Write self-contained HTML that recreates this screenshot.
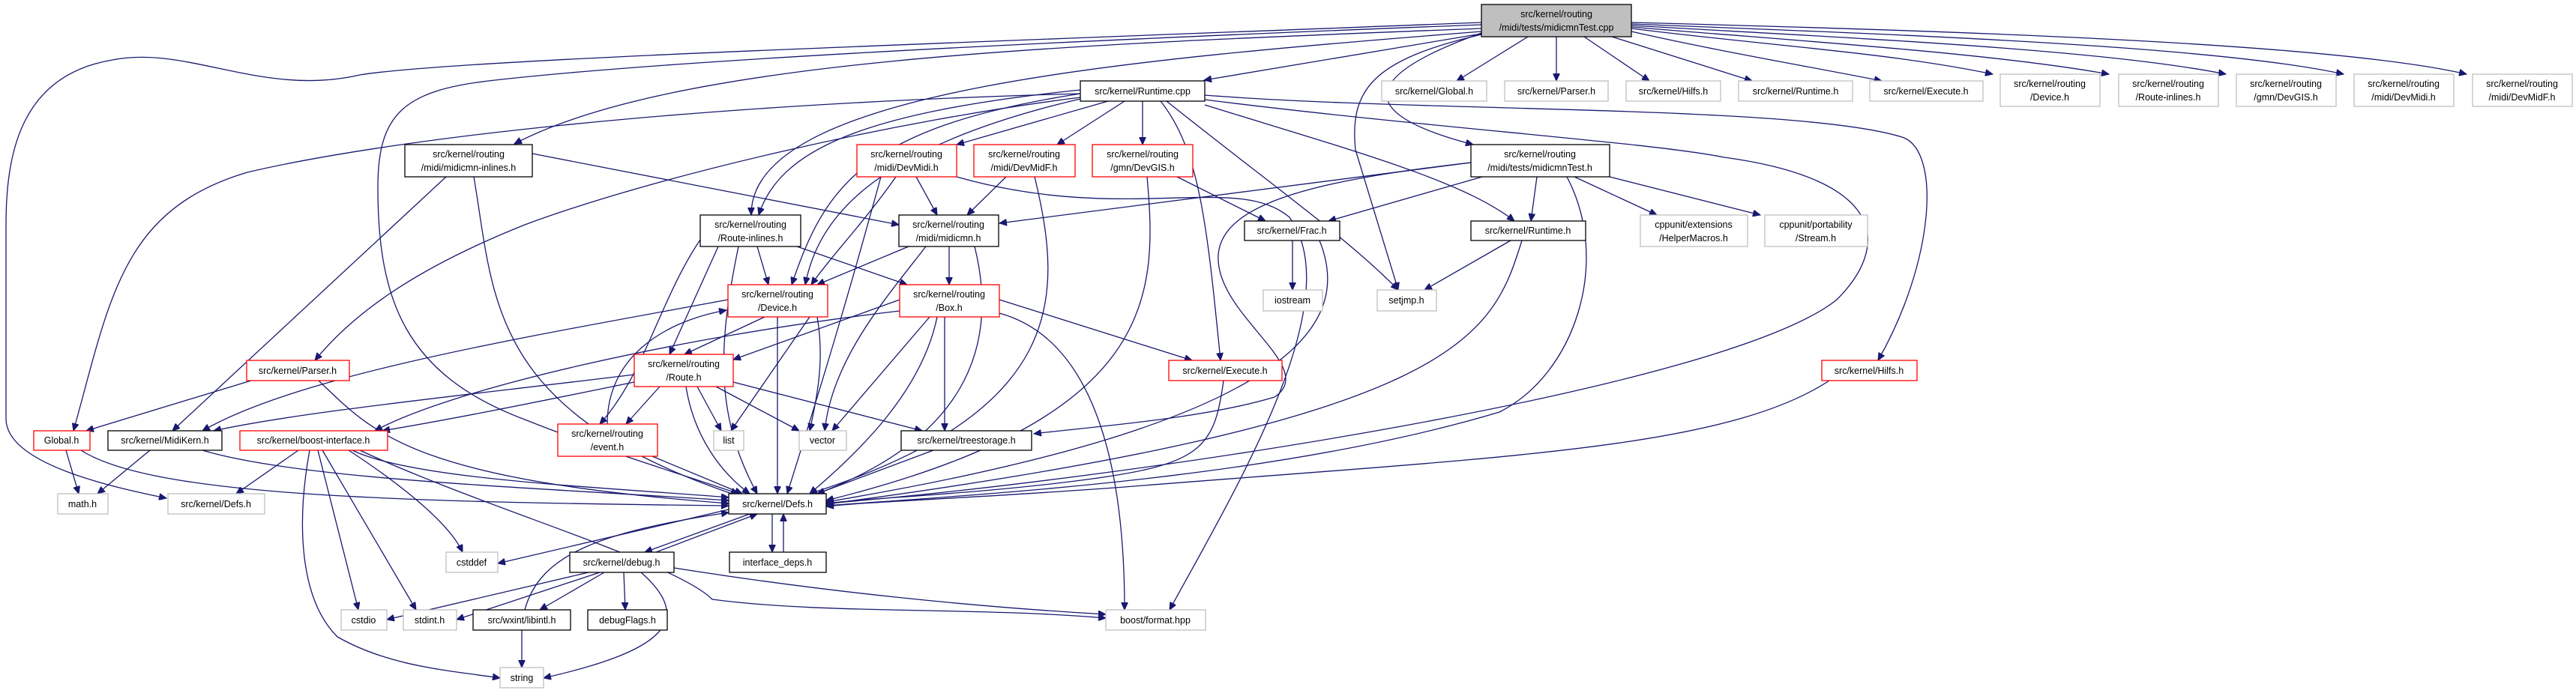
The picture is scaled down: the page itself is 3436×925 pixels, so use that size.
<!DOCTYPE html>
<html><head><meta charset="utf-8"><style>
html,body{margin:0;padding:0;background:#fff}
svg{display:block}
text{font-family:"Liberation Sans",sans-serif;font-size:12.5px;fill:#000;text-anchor:middle}
.e{fill:none;stroke:#191970;stroke-width:1.3}
.bk{fill:#fff;stroke:#000;stroke-width:1.3}
.rd{fill:#fff;stroke:#ff0000;stroke-width:1.3}
.gr{fill:#fff;stroke:#bfbfbf;stroke-width:1.3}
.rt{fill:#bfbfbf;stroke:#000;stroke-width:1.3}
</style></head><body>
<svg width="3436" height="925" viewBox="0 0 3436 925" xmlns="http://www.w3.org/2000/svg">
<defs><marker id="a" markerUnits="userSpaceOnUse" markerWidth="11" markerHeight="9" refX="10" refY="4.5" orient="auto"><path d="M0,0 L10,4.5 L0,9 z" fill="#191970" stroke="#191970"/></marker></defs>
<g marker-end="url(#a)">
<path class="e" d="M1976,45 L1606,107"/>
<path class="e" d="M2038,49 L1943,108"/>
<path class="e" d="M2076,49 L2076,108"/>
<path class="e" d="M2113,49 L2200,108"/>
<path class="e" d="M2150,49 L2337,108"/>
<path class="e" d="M2176,42 C2300,70 2420,90 2510,108"/>
<path class="e" d="M2176,38 C2350,60 2520,70 2658,99"/>
<path class="e" d="M2176,36 C2400,55 2650,70 2813,99"/>
<path class="e" d="M2176,34 C2450,50 2800,65 2969,99"/>
<path class="e" d="M2176,32 C2500,45 2950,60 3126,99"/>
<path class="e" d="M2176,30 C2550,40 3100,55 3290,99"/>
<path class="e" d="M1976,44 C1820,100 1800,150 1965,193"/>
<path class="e" d="M1976,46 C1830,80 1800,120 1808,200 L1865,387"/>
<path class="e" d="M1976,38 C1400,60 900,80 686,192"/>
<path class="e" d="M1976,42 C1500,80 1000,120 1002,287"/>
<path class="e" d="M1976,30 C1200,60 600,80 480,100 C350,130 250,60 150,80 C30,100 8,200 8,300 L8,560 C10,620 150,650 222,665"/>
<path class="e" d="M1976,33 C1400,55 900,80 660,107 C540,120 504,150 504,250 C504,400 540,500 700,560 C800,600 900,630 985,659"/>
<path class="e" d="M1478,135 L1276,193"/>
<path class="e" d="M1500,135 L1410,193"/>
<path class="e" d="M1524,135 L1524,193"/>
<path class="e" d="M1548,135 C1600,200 1610,300 1628,481"/>
<path class="e" d="M1556,135 C1700,250 1800,320 1865,387"/>
<path class="e" d="M1607,140 C1800,200 1950,240 2020,295"/>
<path class="e" d="M1607,127 C1900,150 2400,140 2537,183 C2590,200 2580,350 2505,481"/>
<path class="e" d="M1607,133 C1900,170 2200,190 2300,210 C2520,240 2520,330 2450,400 C2300,520 1500,640 1102,672"/>
<path class="e" d="M1441,130 C1200,160 880,233 700,300 C550,360 470,420 420,481"/>
<path class="e" d="M1441,125 C900,140 513,187 330,230 C161,280 147,400 98,575"/>
<path class="e" d="M1441,120 C1150,150 1040,200 1012,287"/>
<path class="e" d="M1441,125 C1150,170 1100,250 1056,380"/>
<path class="e" d="M1441,132 C1150,200 1090,300 1074,380"/>
<path class="e" d="M710,205 L1199,300"/>
<path class="e" d="M595,236 L230,575"/>
<path class="e" d="M632,236 C660,400 650,550 985,662"/>
<path class="e" d="M1222,236 L1250,287"/>
<path class="e" d="M1195,236 C1150,300 1110,340 1082,380"/>
<path class="e" d="M1175,236 C1130,400 1100,500 1050,659"/>
<path class="e" d="M1276,236 C1500,300 1650,230 1720,290 C1800,400 1650,650 1560,814"/>
<path class="e" d="M1342,236 L1290,287"/>
<path class="e" d="M1380,236 C1420,400 1420,550 1080,659"/>
<path class="e" d="M1570,236 L1688,295"/>
<path class="e" d="M1530,236 C1545,400 1540,560 1102,668"/>
<path class="e" d="M1962,217 L1333,298"/>
<path class="e" d="M1977,236 L1772,295"/>
<path class="e" d="M2050,236 L2042,295"/>
<path class="e" d="M2100,236 L2210,287"/>
<path class="e" d="M2147,236 L2348,287"/>
<path class="e" d="M2090,236 C2150,350 2100,500 2000,550 C1700,640 1300,660 1102,675"/>
<path class="e" d="M1962,217 C1760,240 1630,270 1625,340 C1620,420 1760,490 1700,530 C1600,560 1450,570 1379,579"/>
<path class="e" d="M1010,329 L1025,380"/>
<path class="e" d="M1063,329 L1210,380"/>
<path class="e" d="M958,329 L893,473"/>
<path class="e" d="M934,320 C880,400 860,500 800,566"/>
<path class="e" d="M985,329 C960,450 950,550 1010,659"/>
<path class="e" d="M1212,329 L1090,380"/>
<path class="e" d="M1266,329 L1266,380"/>
<path class="e" d="M1300,329 C1330,450 1300,580 1090,659"/>
<path class="e" d="M1235,329 C1180,400 1110,480 1100,575"/>
<path class="e" d="M1724,321 L1724,387"/>
<path class="e" d="M1760,321 C1800,420 1760,560 1102,670"/>
<path class="e" d="M2015,321 L1900,387"/>
<path class="e" d="M2030,321 C1990,450 1950,560 1102,673"/>
<path class="e" d="M1020,423 L913,473"/>
<path class="e" d="M1080,423 L975,575"/>
<path class="e" d="M1090,423 C1100,480 1090,530 1080,575"/>
<path class="e" d="M1037,423 L1037,659"/>
<path class="e" d="M971,400 C700,450 400,500 270,575"/>
<path class="e" d="M810,566 C810,480 880,430 969,414"/>
<path class="e" d="M1200,400 L978,480"/>
<path class="e" d="M1333,400 L1590,481"/>
<path class="e" d="M1260,423 L1260,575"/>
<path class="e" d="M1240,423 L1110,575"/>
<path class="e" d="M1250,423 C1230,520 1150,600 1080,659"/>
<path class="e" d="M1333,418 C1450,450 1500,600 1500,814"/>
<path class="e" d="M1200,415 C900,450 600,520 500,575"/>
<path class="e" d="M880,516 L835,566"/>
<path class="e" d="M930,516 L962,575"/>
<path class="e" d="M955,516 L1066,575"/>
<path class="e" d="M978,510 L1230,575"/>
<path class="e" d="M915,516 C925,580 960,630 1000,659"/>
<path class="e" d="M846,500 C600,530 400,550 285,575"/>
<path class="e" d="M846,510 C700,540 600,560 510,575"/>
<path class="e" d="M335,508 L115,575"/>
<path class="e" d="M425,508 C500,580 550,640 972,672"/>
<path class="e" d="M88,601 L105,659"/>
<path class="e" d="M108,601 C200,660 500,670 972,675"/>
<path class="e" d="M200,601 L130,659"/>
<path class="e" d="M270,601 C400,640 700,650 972,668"/>
<path class="e" d="M398,601 L315,659"/>
<path class="e" d="M470,601 C550,640 800,650 972,664"/>
<path class="e" d="M465,601 C540,650 600,700 617,737"/>
<path class="e" d="M424,601 L478,814"/>
<path class="e" d="M430,601 L555,814"/>
<path class="e" d="M413,601 C395,700 400,800 450,850 C520,890 600,895 667,905"/>
<path class="e" d="M480,601 C650,680 900,750 950,800 C1100,820 1300,810 1475,825"/>
<path class="e" d="M870,609 L990,659"/>
<path class="e" d="M1245,601 L1090,659"/>
<path class="e" d="M1632,508 C1620,600 1600,620 1450,640 C1300,660 1150,665 1102,672"/>
<path class="e" d="M2440,508 C2300,600 2000,610 1500,650 C1300,665 1150,670 1102,676"/>
<path class="e" d="M1000,686 L860,737"/>
<path class="e" d="M875,737 L1010,686"/>
<path class="e" d="M1030,686 L1030,737"/>
<path class="e" d="M1045,737 L1045,686"/>
<path class="e" d="M972,680 L664,752"/>
<path class="e" d="M785,764 L516,827"/>
<path class="e" d="M800,764 L609,827"/>
<path class="e" d="M806,764 L720,814"/>
<path class="e" d="M832,764 L834,814"/>
<path class="e" d="M855,764 C930,830 880,870 725,905"/>
<path class="e" d="M899,758 C1100,790 1300,810 1475,820"/>
<path class="e" d="M696,841 L696,891"/>
<path class="e" d="M700,814 C720,740 800,710 972,684"/>
</g>
<rect class="rt" x="1976" y="6" width="200" height="43"/><text x="2076" y="23">src/kernel/routing</text><text x="2076" y="41">/midi/tests/midicmnTest.cpp</text>
<rect class="bk" x="1441" y="108" width="166" height="27"/><text x="1524" y="126">src/kernel/Runtime.cpp</text>
<rect class="gr" x="1843" y="108" width="140" height="27"/><text x="1913" y="126">src/kernel/Global.h</text>
<rect class="gr" x="2007" y="108" width="138" height="27"/><text x="2076" y="126">src/kernel/Parser.h</text>
<rect class="gr" x="2169" y="108" width="126" height="27"/><text x="2232" y="126">src/kernel/Hilfs.h</text>
<rect class="gr" x="2319" y="108" width="152" height="27"/><text x="2395" y="126">src/kernel/Runtime.h</text>
<rect class="gr" x="2494" y="108" width="151" height="27"/><text x="2569" y="126">src/kernel/Execute.h</text>
<rect class="gr" x="2668" y="99" width="133" height="43"/><text x="2734" y="116">src/kernel/routing</text><text x="2734" y="134">/Device.h</text>
<rect class="gr" x="2826" y="99" width="133" height="43"/><text x="2892" y="116">src/kernel/routing</text><text x="2892" y="134">/Route-inlines.h</text>
<rect class="gr" x="2983" y="99" width="133" height="43"/><text x="3049" y="116">src/kernel/routing</text><text x="3049" y="134">/gmn/DevGIS.h</text>
<rect class="gr" x="3140" y="99" width="133" height="43"/><text x="3206" y="116">src/kernel/routing</text><text x="3206" y="134">/midi/DevMidi.h</text>
<rect class="gr" x="3298" y="99" width="133" height="43"/><text x="3364" y="116">src/kernel/routing</text><text x="3364" y="134">/midi/DevMidF.h</text>
<rect class="bk" x="540" y="193" width="170" height="43"/><text x="625" y="210">src/kernel/routing</text><text x="625" y="228">/midi/midicmn-inlines.h</text>
<rect class="rd" x="1143" y="193" width="133" height="43"/><text x="1209" y="210">src/kernel/routing</text><text x="1209" y="228">/midi/DevMidi.h</text>
<rect class="rd" x="1299" y="193" width="135" height="43"/><text x="1366" y="210">src/kernel/routing</text><text x="1366" y="228">/midi/DevMidF.h</text>
<rect class="rd" x="1457" y="193" width="134" height="43"/><text x="1524" y="210">src/kernel/routing</text><text x="1524" y="228">/gmn/DevGIS.h</text>
<rect class="bk" x="1962" y="193" width="185" height="43"/><text x="2054" y="210">src/kernel/routing</text><text x="2054" y="228">/midi/tests/midicmnTest.h</text>
<rect class="bk" x="934" y="287" width="134" height="42"/><text x="1001" y="304">src/kernel/routing</text><text x="1001" y="322">/Route-inlines.h</text>
<rect class="bk" x="1199" y="287" width="133" height="42"/><text x="1265" y="304">src/kernel/routing</text><text x="1265" y="322">/midi/midicmn.h</text>
<rect class="bk" x="1660" y="295" width="127" height="26"/><text x="1723" y="312">src/kernel/Frac.h</text>
<rect class="bk" x="1962" y="295" width="153" height="26"/><text x="2038" y="312">src/kernel/Runtime.h</text>
<rect class="gr" x="2188" y="287" width="143" height="42"/><text x="2259" y="304">cppunit/extensions</text><text x="2259" y="322">/HelperMacros.h</text>
<rect class="gr" x="2354" y="287" width="137" height="42"/><text x="2422" y="304">cppunit/portability</text><text x="2422" y="322">/Stream.h</text>
<rect class="rd" x="971" y="380" width="133" height="43"/><text x="1037" y="397">src/kernel/routing</text><text x="1037" y="415">/Device.h</text>
<rect class="rd" x="1200" y="380" width="133" height="43"/><text x="1266" y="397">src/kernel/routing</text><text x="1266" y="415">/Box.h</text>
<rect class="gr" x="1685" y="387" width="79" height="28"/><text x="1724" y="405">iostream</text>
<rect class="gr" x="1837" y="387" width="79" height="28"/><text x="1876" y="405">setjmp.h</text>
<rect class="rd" x="329" y="481" width="137" height="27"/><text x="397" y="499">src/kernel/Parser.h</text>
<rect class="rd" x="846" y="473" width="132" height="43"/><text x="912" y="490">src/kernel/routing</text><text x="912" y="508">/Route.h</text>
<rect class="rd" x="1559" y="481" width="151" height="27"/><text x="1634" y="499">src/kernel/Execute.h</text>
<rect class="rd" x="2430" y="481" width="127" height="27"/><text x="2493" y="499">src/kernel/Hilfs.h</text>
<rect class="rd" x="45" y="575" width="75" height="26"/><text x="82" y="592">Global.h</text>
<rect class="bk" x="144" y="575" width="152" height="26"/><text x="220" y="592">src/kernel/MidiKern.h</text>
<rect class="rd" x="320" y="575" width="197" height="26"/><text x="418" y="592">src/kernel/boost-interface.h</text>
<rect class="rd" x="744" y="566" width="133" height="43"/><text x="810" y="583">src/kernel/routing</text><text x="810" y="601">/event.h</text>
<rect class="gr" x="952" y="575" width="40" height="26"/><text x="972" y="592">list</text>
<rect class="gr" x="1066" y="575" width="63" height="26"/><text x="1097" y="592">vector</text>
<rect class="bk" x="1202" y="575" width="174" height="26"/><text x="1289" y="592">src/kernel/treestorage.h</text>
<rect class="gr" x="77" y="659" width="67" height="27"/><text x="110" y="677">math.h</text>
<rect class="gr" x="224" y="659" width="129" height="27"/><text x="288" y="677">src/kernel/Defs.h</text>
<rect class="bk" x="972" y="659" width="130" height="27"/><text x="1037" y="677">src/kernel/Defs.h</text>
<rect class="gr" x="595" y="737" width="69" height="27"/><text x="629" y="755">cstddef</text>
<rect class="bk" x="760" y="737" width="139" height="27"/><text x="829" y="755">src/kernel/debug.h</text>
<rect class="bk" x="973" y="737" width="129" height="27"/><text x="1037" y="755">interface_deps.h</text>
<rect class="gr" x="455" y="814" width="61" height="27"/><text x="485" y="832">cstdio</text>
<rect class="gr" x="538" y="814" width="71" height="27"/><text x="573" y="832">stdint.h</text>
<rect class="bk" x="631" y="814" width="130" height="27"/><text x="696" y="832">src/wxint/libintl.h</text>
<rect class="bk" x="784" y="814" width="106" height="27"/><text x="837" y="832">debugFlags.h</text>
<rect class="gr" x="1475" y="814" width="133" height="27"/><text x="1541" y="832">boost/format.hpp</text>
<rect class="gr" x="667" y="891" width="58" height="27"/><text x="696" y="909">string</text>
</svg>
</body></html>
